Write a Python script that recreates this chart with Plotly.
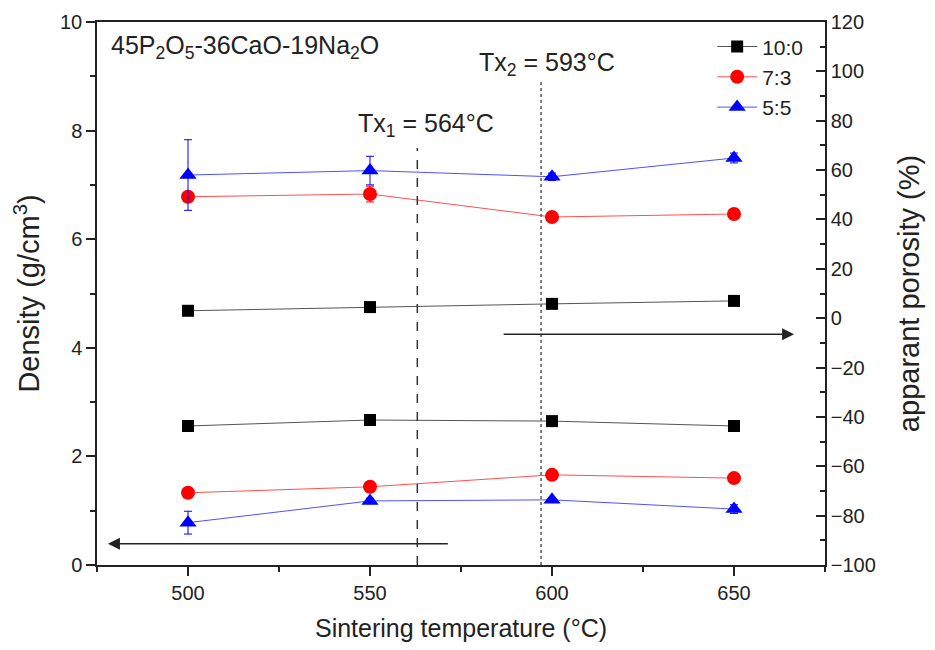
import plotly.graph_objects as go

temps = [500, 550, 600, 650]
series_names = ["10:0", "7:3", "5:5"]

density_10_0 = [2.56, 2.67, 2.65, 2.56]
density_7_3 = [1.33, 1.44, 1.66, 1.60]
density_5_5 = [0.78, 1.18, 1.20, 1.03]
density_err_5_5 = [0.21, 0.05, 0.03, 0.08]

porosity_10_0 = [3.0, 4.5, 5.8, 7.0]
porosity_7_3 = [49.2, 50.3, 41.0, 42.2]
porosity_5_5 = [58.0, 59.8, 57.3, 64.9]
porosity_err_7_3 = [0.0, 3.2, 0.0, 0.0]
porosity_err_5_5 = [14.3, 5.8, 1.5, 2.0]

tx1 = 563
tx2 = 597

FONT = "Liberation Sans, Arial, sans-serif"
marker_colors = ["#000000", "#ff0000", "#0000ff"]
line_colors = ["#555555", "#ff5050", "#5050ff"]
symbols = ["square", "circle", "triangle-up"]
sizes = [12, 14, 15]

fig = go.Figure()

dens = [density_10_0, density_7_3, density_5_5]
dens_err = [None, None, density_err_5_5]
por = [porosity_10_0, porosity_7_3, porosity_5_5]
por_err = [None, porosity_err_7_3, porosity_err_5_5]

for i, name in enumerate(series_names):
    err = dict(type="data", array=dens_err[i], color=marker_colors[i], thickness=1, width=4, visible=True) if dens_err[i] else None
    fig.add_trace(go.Scatter(
        x=temps, y=dens[i], name=name, legendgroup=name, showlegend=True,
        mode="lines+markers",
        line=dict(color=line_colors[i], width=1),
        marker=dict(symbol=symbols[i], size=sizes[i], color=marker_colors[i]),
        error_y=err, yaxis="y", cliponaxis=False))
for i, name in enumerate(series_names):
    err = dict(type="data", array=por_err[i], color=marker_colors[i], thickness=1, width=4, visible=True) if por_err[i] else None
    fig.add_trace(go.Scatter(
        x=temps, y=por[i], name=name, legendgroup=name, showlegend=False,
        mode="lines+markers",
        line=dict(color=line_colors[i], width=1),
        marker=dict(symbol=symbols[i], size=sizes[i], color=marker_colors[i]),
        error_y=err, yaxis="y2", cliponaxis=False))

# vertical crystallisation lines
fig.add_shape(type="line", xref="x", yref="y", x0=tx1, x1=tx1, y0=0, y1=7.68,
              line=dict(color="#333333", width=1.5, dash="dash"))
fig.add_shape(type="line", xref="x", yref="y", x0=tx2, x1=tx2, y0=0, y1=8.9,
              line=dict(color="#555555", width=1.5, dash="dot"))

annotations = [
    dict(text="45P<sub>2</sub>O<sub>5</sub>-36CaO-19Na<sub>2</sub>O", xref="paper", yref="paper",
         x=0.016, y=0.988, xanchor="left", yanchor="top", showarrow=False,
         font=dict(size=25, color="#222222", family=FONT)),
    dict(text="Tx<sub>1</sub> = 564°C", xref="x", yref="y", x=565.5, y=8.1,
         xanchor="center", yanchor="middle", showarrow=False,
         font=dict(size=25, color="#222222", family=FONT)),
    dict(text="Tx<sub>2</sub> = 593°C", xref="x", yref="y", x=598.5, y=9.22,
         xanchor="center", yanchor="middle", showarrow=False,
         font=dict(size=25, color="#222222", family=FONT)),
    # arrow to the left axis
    dict(x=478, y=0.39, ax=571.8, ay=0.39, xref="x", yref="y", axref="x", ayref="y",
         text="", showarrow=True, arrowhead=2, arrowsize=1.6, arrowwidth=1.5, arrowcolor="#222222"),
    # arrow to the right axis
    dict(x=666.5, y=-6.5, ax=586.3, ay=-6.5, xref="x", yref="y2", axref="x", ayref="y2",
         text="", showarrow=True, arrowhead=2, arrowsize=1.6, arrowwidth=1.5, arrowcolor="#222222"),
]

fig.update_layout(
    width=919, height=634,
    margin=dict(l=89, r=102, t=14, b=77),
    paper_bgcolor="white", plot_bgcolor="white",
    font=dict(family=FONT, size=20, color="#222222"),
    showlegend=True,
    legend=dict(x=0.845, y=0.992, xanchor="left", yanchor="top",
                bgcolor="rgba(0,0,0,0)", font=dict(size=21, family=FONT),
                tracegroupgap=0, itemwidth=40),
    xaxis=dict(range=[475, 675], tickmode="array", tickvals=[500, 550, 600, 650],
               automargin=False,
               ticks="outside", ticklen=9, tickwidth=1.5, tickcolor="#222222",
               showline=True, linecolor="#222222", linewidth=1.5, mirror=True,
               showgrid=False, zeroline=False,
               minor=dict(ticks="outside", ticklen=5, tickwidth=1.5, tickcolor="#222222", dtick=25, tick0=475),
               title=dict(text="Sintering temperature (°C)", font=dict(size=25), standoff=20),
               tickfont=dict(size=20)),
    yaxis=dict(range=[0, 10], dtick=2, ticks="outside", ticklen=9, tickwidth=1.5, tickcolor="#222222",
               automargin=False,
               showline=True, linecolor="#222222", linewidth=1.5, mirror=False,
               showgrid=False, zeroline=False,
               minor=dict(ticks="outside", ticklen=5, tickwidth=1.5, tickcolor="#222222", dtick=1),
               title=dict(text="Density (g/cm<sup>3</sup>)", font=dict(size=29), standoff=12),
               tickfont=dict(size=20)),
    yaxis2=dict(range=[-100, 120], dtick=20, overlaying="y", side="right",
                automargin=False,
                ticks="inside", ticklen=9, tickwidth=1.5, tickcolor="#222222",
                showline=True, linecolor="#222222", linewidth=1.5,
                showgrid=False, zeroline=False,
                minor=dict(ticks="inside", ticklen=5, tickwidth=1.5, tickcolor="#222222", dtick=10),
                title=dict(text="apparant porosity (%)", font=dict(size=29), standoff=24),
                tickfont=dict(size=20)),
    annotations=annotations,
)

fig.write_html("out.html")
